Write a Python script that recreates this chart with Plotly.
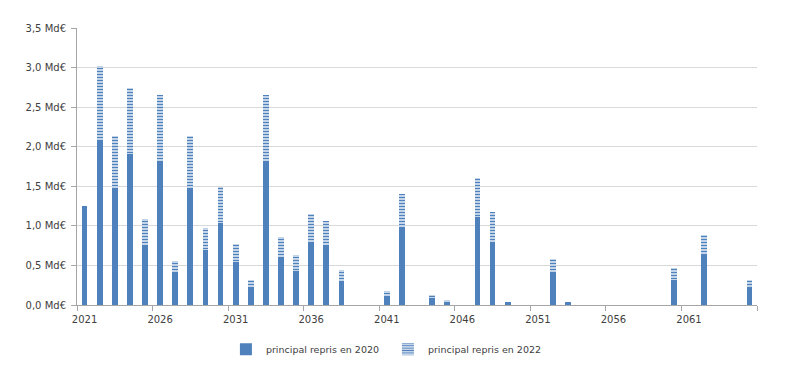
import plotly.graph_objects as go

years = list(range(2021, 2066))

# principal repris en 2020 (Md€), by year
p2020_map = {
    2021: 1.25, 2022: 2.07, 2023: 1.48, 2024: 1.91, 2025: 0.745, 2026: 1.82,
    2027: 0.41, 2028: 1.48, 2029: 0.69, 2030: 1.03, 2031: 0.545, 2032: 0.23,
    2033: 1.82, 2034: 0.60, 2035: 0.435, 2036: 0.80, 2037: 0.745, 2038: 0.29,
    2041: 0.12, 2042: 0.97, 2044: 0.09, 2045: 0.035, 2047: 1.115, 2048: 0.80,
    2049: 0.04, 2052: 0.40, 2053: 0.04, 2060: 0.315, 2062: 0.63, 2065: 0.23,
}
# principal repris en 2022 (Md€), by year
p2022_map = {
    2022: 0.95, 2023: 0.65, 2024: 0.83, 2025: 0.34, 2026: 0.83, 2027: 0.14,
    2028: 0.65, 2029: 0.28, 2030: 0.46, 2031: 0.23, 2032: 0.09, 2033: 0.83,
    2034: 0.26, 2035: 0.20, 2036: 0.35, 2037: 0.32, 2038: 0.15, 2041: 0.055,
    2042: 0.43, 2044: 0.035, 2045: 0.03, 2047: 0.485, 2048: 0.375,
    2052: 0.18, 2060: 0.15, 2062: 0.26, 2065: 0.09,
}
p2020 = [p2020_map.get(y, 0) for y in years]
p2022 = [p2022_map.get(y, 0) for y in years]

label_years = [2021, 2026, 2031, 2036, 2041, 2046, 2051, 2056, 2061]
y_ticks = [0, 0.5, 1.0, 1.5, 2.0, 2.5, 3.0, 3.5]

blue = "#4f81bd"
font_family = "DejaVu Sans"
text_color = "#404040"

fig = go.Figure()
fig.add_trace(go.Bar(
    x=years, y=p2020, name="principal repris en 2020",
    marker=dict(color=blue, line=dict(width=0)),
))
fig.add_trace(go.Bar(
    x=years, y=p2022, name="principal repris en 2022",
    marker=dict(color="#dbe5f1", line=dict(width=0),
                pattern=dict(shape="-", fgcolor=blue, bgcolor="#dbe5f1",
                             size=3, solidity=0.45, fillmode="replace")),
))

fig.update_layout(
    width=783, height=360,
    margin=dict(l=69, r=34, t=20, b=63, autoexpand=False),
    paper_bgcolor="white", plot_bgcolor="white",
    barmode="stack", bargap=0.62,
    separators=", ",
    font=dict(family=font_family, size=10, color=text_color),
    showlegend=True,
    legend=dict(orientation="h", x=0.219, xanchor="left", y=-0.16, yanchor="middle",
                font=dict(size=9.5, color=text_color), itemwidth=30,
                entrywidth=117, entrywidthmode="pixels",
                traceorder="normal"),
    xaxis=dict(
        range=[2020.5, 2065.5], tickmode="array", tickvals=label_years,
        ticktext=[str(y) for y in label_years], ticks="",
        ticklabelstandoff=5, automargin=False,
        showgrid=False, showline=True, linecolor="#a6a6a6", linewidth=1,
        zeroline=False,
        minor=dict(ticks="outside", tickmode="array",
                   tickvals=[2020.5 + 5 * k for k in range(10)],
                   ticklen=5, tickcolor="#a6a6a6", tickwidth=1, showgrid=False),
        tickfont=dict(size=10, color=text_color),
    ),
    yaxis=dict(
        range=[0, 3.5], tickmode="array", tickvals=y_ticks,
        ticktext=[f"{v:.1f}".replace(".", ",") + " Md€" for v in y_ticks],
        ticks="outside", ticklen=5, tickcolor="#a6a6a6",
        ticklabelstandoff=3, automargin=False,
        showgrid=True, gridcolor="#d9d9d9", gridwidth=1,
        showline=True, linecolor="#a6a6a6", linewidth=1, zeroline=False,
        tickfont=dict(size=10, color=text_color),
    ),
)

fig.write_html("out.html")
